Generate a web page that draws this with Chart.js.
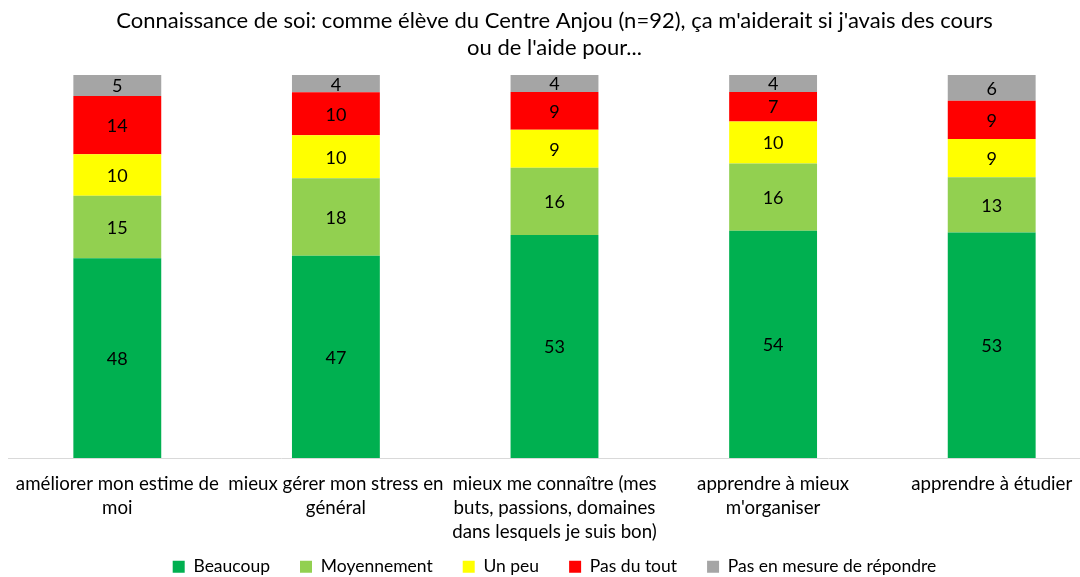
<!DOCTYPE html>
<html>
<head>
<meta charset="utf-8">
<script src="https://cdn.jsdelivr.net/npm/chart.js@4"></script>
<style>
  body { margin: 0; background: #fff; overflow: hidden; }
  /* the plot area runs a bit past the right edge of the window, as in the original */
  #wrap { width: 1101px; height: 577px; }
</style>
</head>
<body>
<div id="wrap"><canvas id="chart"></canvas></div>
<script>
// categories (split on lines like the original)
const categories = [
    ['améliorer mon estime de', 'moi'],
    ['mieux gérer mon stress en', 'général'],
    ['mieux me connaître (mes', 'buts, passions, domaines', 'dans lesquels je suis bon)'],
    ['apprendre à mieux', "m'organiser"],
    ['apprendre à étudier']
];

// answer counts per category
const beaucoup     = [48, 47, 53, 54, 53];
const moyennement  = [15, 18, 16, 16, 13];
const unPeu        = [10, 10, 9, 10, 9];
const pasDuTout    = [14, 10, 9, 7, 9];
const pasEnMesure  = [5, 4, 4, 4, 6];

const seriesNames  = ['Beaucoup', 'Moyennement', 'Un peu', 'Pas du tout', 'Pas en mesure de répondre'];
const seriesCounts = [beaucoup, moyennement, unPeu, pasDuTout, pasEnMesure];
const colors = ['#00B050', '#92D050', '#FFFF00', '#FF0000', '#A5A5A5'];

// totals per bar, bars are drawn as 100% stacked
const totals = categories.map((c, i) => seriesCounts.reduce((s, arr) => s + arr[i], 0));

const fontFamily = 'Lato, "Open Sans", sans-serif';

// draw the counts in the middle of each segment
const countLabels = {
    id: 'countLabels',
    afterLayout(chart) {
        // x labels are clipped to the scale box, let the third line show
        chart.scales.x.bottom = chart.height;
    },
    afterDatasetsDraw(chart) {
        const ctx = chart.ctx;
        ctx.save();
        ctx.font = '18px ' + fontFamily;
        ctx.fillStyle = '#000';
        ctx.textAlign = 'center';
        ctx.textBaseline = 'middle';
        chart.data.datasets.forEach((ds, di) => {
            chart.getDatasetMeta(di).data.forEach((bar, i) => {
                const mid = (bar.y + bar.base) / 2;
                ctx.fillText(seriesCounts[di][i], bar.x, mid + 1);
            });
        });
        ctx.restore();
    }
};

new Chart(document.getElementById('chart'), {
    type: 'bar',
    data: {
        labels: categories,
        datasets: seriesNames.map((name, di) => ({
            label: name,
            data: seriesCounts[di].map((v, i) => v / totals[i] * 100),
            backgroundColor: colors[di],
            borderWidth: 0,
            categoryPercentage: 1,
            barPercentage: 0.402
        }))
    },
    options: {
        responsive: true,
        maintainAspectRatio: false,
        animation: false,
        layout: { padding: { left: 8, right: 0, top: 7, bottom: 0 } },
        plugins: {
            title: {
                display: true,
                text: ["Connaissance de soi: comme élève du Centre Anjou (n=92), ça m'aiderait si j'avais des cours", "ou de l'aide pour..."],
                color: '#000',
                font: { family: fontFamily, size: 22, weight: 'normal', lineHeight: 1.23 },
                padding: { top: 0, bottom: 14 }
            },
            legend: {
                position: 'bottom',
                // keep the box short so the wide item spacing does not push it up
                maxHeight: 49,
                labels: {
                    color: '#000',
                    font: { family: fontFamily, size: 17.5 },
                    boxWidth: 12,
                    boxHeight: 12,
                    padding: 30
                }
            },
            tooltip: { enabled: false }
        },
        scales: {
            x: {
                stacked: true,
                grid: { display: false, drawTicks: false },
                border: { color: '#D9D9D9', width: 1 },
                ticks: {
                    color: '#000',
                    font: { family: fontFamily, size: 18.7, lineHeight: 1.28 },
                    maxRotation: 0,
                    autoSkip: false,
                    padding: 14
                },
                // let the legend sit close under the wrapped labels
                afterFit(scale) { scale.height = 70; }
            },
            y: {
                stacked: true,
                display: false,
                min: 0,
                max: 100
            }
        }
    },
    plugins: [countLabels]
});
</script>
</body>
</html>
